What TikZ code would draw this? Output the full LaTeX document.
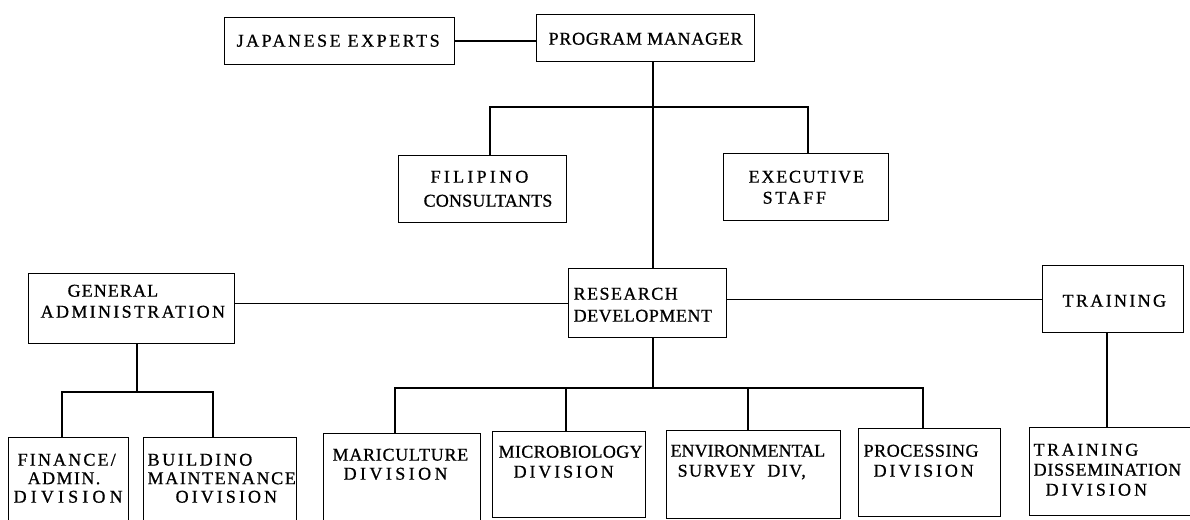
\documentclass[tikz,border=0pt]{standalone}
\usepackage{fontspec}
\setmainfont{Liberation Serif}
\newfontfamily\orgfont{Liberation Serif}[FakeBold=0.8]
\setlength{\parskip}{0pt}

% text block of a box: width, height, gap above first line, line pitch, lines
\newcommand{\cellbox}[5]{\parbox[c][#2][t]{#1}{\raggedright\hyphenpenalty=10000\exhyphenpenalty=10000\orgfont\fontsize{18pt}{#4}\selectfont\vspace*{#3}\rule{0pt}{12pt}#5}}
% letter-spaced word group
\newcommand{\ls}[2]{{\addfontfeature{LetterSpace=#1}#2}}

\tikzset{
  box/.style={draw, line width=1.3pt, inner sep=0pt, anchor=north west, fill=white},
  link/.style={line width=1.3pt}
}

\begin{document}
\begin{tikzpicture}[x=1pt, y=-1pt]
\useasboundingbox (0,0) rectangle (1190,519);
\fill[white] (0,0) rectangle (1190,519);
\clip (0,0) rectangle (1190,519);

% top level
\node[box] (JE) at (224,17) {\cellbox{230pt}{47pt}{17pt}{24pt}{\hspace*{12pt}\ls{14}{JAPANESE EXPERTS}}};
\node[box] (PM) at (536,14) {\cellbox{218pt}{47pt}{18pt}{24pt}{\hspace*{12pt}\ls{4}{PROGRAM MANAGER}}};

% staff
\node[box] (FC) at (398,155) {\cellbox{168pt}{67pt}{15pt}{24pt}{\hspace*{32pt}\ls{18}{FILIPINO}\\\hspace*{25pt}\ls{1}{CONSULTANTS}}};
\node[box] (EX) at (723,153) {\cellbox{165pt}{67pt}{17pt}{21pt}{\hspace*{25pt}\ls{10}{EXECUTIVE}\\\hspace*{39pt}\ls{15}{STAFF}}};

% departments
\node[box] (GA) at (28,273) {\cellbox{206pt}{70pt}{11pt}{21pt}{\hspace*{39pt}\ls{6}{GENERAL}\\\hspace*{12pt}\ls{13}{ADMINISTRATION}}};
\node[box] (RD) at (568,268) {\cellbox{158pt}{69pt}{19pt}{22pt}{\hspace*{5pt}\ls{8}{RESEARCH}\\\hspace*{5pt}\ls{3}{DEVELOPMENT}}};
\node[box] (TR) at (1042,265) {\cellbox{141pt}{67pt}{29pt}{22pt}{\hspace*{20pt}\ls{13}{TRAINING}}};

% divisions
\node[box] (FN) at (8,437) {\cellbox{120pt}{103pt}{16pt}{18.5pt}{\hspace*{9pt}\ls{12}{FINANCE/}\\\hspace*{19pt}\ls{8}{ADMIN.}\\\hspace*{5pt}\ls{23}{DIVISION}}};
\node[box] (BM) at (143,437) {\cellbox{153pt}{103pt}{16pt}{18.5pt}{\hspace*{4pt}\ls{14}{BUILDINO}\\\hspace*{4pt}\ls{9}{MAINTENANCE}\\\hspace*{32pt}\ls{17}{OIVISION}}};
\node[box] (MA) at (323,433) {\cellbox{157pt}{107pt}{15pt}{19pt}{\hspace*{9pt}\ls{4}{MARICULTURE}\\\hspace*{20pt}\ls{19}{DIVISION}}};
\node[box] (MI) at (492,431) {\cellbox{153pt}{86pt}{14pt}{20pt}{\hspace*{6pt}\ls{2}{MICROBIOLOGY}\\\hspace*{21pt}\ls{16}{DIVISION}}};
\node[box] (EN) at (666,430) {\cellbox{174pt}{88pt}{14pt}{20pt}{\hspace*{4pt}ENVIRONMENTAL\\\hspace*{11pt}\ls{8}{SURVEY\hspace{6pt} DIV,}}};
\node[box] (PR) at (858,428) {\cellbox{142pt}{88pt}{16pt}{20pt}{\hspace*{5pt}\ls{3}{PROCESSING}\\\hspace*{15pt}\ls{16}{DIVISION}}};
\node[box] (TD) at (1029,427) {\cellbox{171pt}{88pt}{16pt}{20pt}{\hspace*{4pt}\ls{14}{TRAINING}\\\hspace*{4pt}\ls{4}{DISSEMINATION}\\\hspace*{16pt}\ls{17}{DIVISION}}};

% drop positions and bus lines
\coordinate (spine) at (653,0);
\coordinate (topbar) at (0,107);
\coordinate (fcx) at (490,0);
\coordinate (exx) at (808,0);
\coordinate (gax) at (137,0);
\coordinate (gabar) at (0,392);
\coordinate (fnx) at (62,0);
\coordinate (bmx) at (213,0);
\coordinate (rdbar) at (0,388);
\coordinate (mac) at (395,0);
\coordinate (mic) at (566,0);
\coordinate (env) at (748,0);
\coordinate (prc) at (923,0);
\coordinate (trx) at (1107,0);

% connectors
\draw[link] (JE.east) -- (JE.east -| PM.west);
\draw[link] (PM.south -| spine) -- (RD.north -| spine);
\draw[link] (FC.north -| fcx) -- (fcx |- topbar) -- (exx |- topbar) -- (EX.north -| exx);
\draw[link] (RD.west -| GA.east) -- (RD.west);
\draw[link] (TR.west -| RD.east) -- (TR.west);

\draw[link] (GA.south -| gax) -- (gax |- gabar);
\draw[link] (FN.north -| fnx) -- (fnx |- gabar) -- (bmx |- gabar) -- (BM.north -| bmx);

\draw[link] (RD.south -| spine) -- (spine |- rdbar);
\draw[link] (MA.north -| mac) -- (mac |- rdbar) -- (prc |- rdbar) -- (PR.north -| prc);
\draw[link] (MI.north -| mic) -- (mic |- rdbar);
\draw[link] (EN.north -| env) -- (env |- rdbar);

\draw[link] (TR.south -| trx) -- (TD.north -| trx);
\end{tikzpicture}
\end{document}
